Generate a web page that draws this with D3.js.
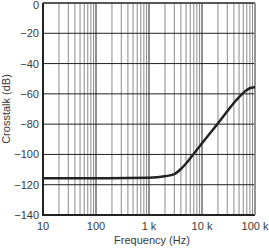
<!DOCTYPE html>
<html>
<head>
<meta charset="utf-8">
<script src="https://cdn.jsdelivr.net/npm/d3@7"></script>
<style>
  body { margin: 0; background: #fff; }
  text { font-family: "Liberation Sans", Arial, sans-serif; fill: #3a3a3a; }
</style>
</head>
<body>
<div class="chart"></div>
<script>
// crosstalk vs frequency
const freqs = [10, 100, 1000, 2000, 3000, 4000, 5000, 7000, 10000, 20000, 50000, 70000, 85000, 100000];
const crosstalk = [-115.7, -115.7, -115.4, -114.4, -113, -109.6, -106, -99.5, -92.6, -79.5, -62.2, -57.5, -56, -55.7];

const xTicks = [10, 100, 1000, 10000, 100000];
const xTickLabels = ['10', '100', '1 k', '10 k', '100 k'];
const yTicks = [0, -20, -40, -60, -80, -100, -120, -140];

const width = 269, height = 249;
const margin = { top: 3, right: 14, bottom: 34, left: 43 };

const svg = d3.select('div.chart')
  .append('svg')
  .attr('width', width)
  .attr('height', height);

const x = d3.scaleLog().domain([10, 100000]).range([margin.left, width - margin.right]);
const y = d3.scaleLinear().domain([-140, 0]).range([height - margin.bottom, margin.top]);

// minor vertical grid (2..9 per decade)
const minor = [];
for (let d = 10; d < 100000; d *= 10) {
  for (let k = 2; k <= 9; k++) minor.push(d * k);
}
svg.append('g')
  .selectAll('line')
  .data(minor)
  .enter()
  .append('line')
  .attr('x1', d => x(d)).attr('x2', d => x(d))
  .attr('y1', y(0)).attr('y2', y(-140))
  .attr('stroke', '#8a8a8a')
  .attr('stroke-width', 1);

// major grid
svg.append('g')
  .selectAll('line')
  .data(xTicks)
  .enter()
  .append('line')
  .attr('x1', d => x(d)).attr('x2', d => x(d))
  .attr('y1', y(0)).attr('y2', y(-140))
  .attr('stroke', '#222')
  .attr('stroke-width', 1);

svg.append('g')
  .selectAll('line')
  .data(yTicks)
  .enter()
  .append('line')
  .attr('x1', x(10)).attr('x2', x(100000))
  .attr('y1', d => y(d)).attr('y2', d => y(d))
  .attr('stroke', '#222')
  .attr('stroke-width', 1);

// frame
svg.append('line')
  .attr('x1', x(10)).attr('x2', x(10))
  .attr('y1', y(0)).attr('y2', y(-140))
  .attr('stroke', '#222').attr('stroke-width', 2);
svg.append('line')
  .attr('x1', x(10) - 1).attr('x2', x(100000))
  .attr('y1', y(-140)).attr('y2', y(-140))
  .attr('stroke', '#222').attr('stroke-width', 2);
svg.append('line')
  .attr('x1', x(10)).attr('x2', x(100000))
  .attr('y1', y(0)).attr('y2', y(0))
  .attr('stroke', '#444').attr('stroke-width', 1.5);
svg.append('line')
  .attr('x1', x(100000)).attr('x2', x(100000))
  .attr('y1', y(0)).attr('y2', y(-140))
  .attr('stroke', '#999').attr('stroke-width', 1.5);

// data curve
const line = d3.line()
  .x((d, i) => x(freqs[i]))
  .y(d => y(d))
  .curve(d3.curveMonotoneX);

svg.append('path')
  .datum(crosstalk)
  .attr('d', line)
  .attr('fill', 'none')
  .attr('stroke', '#222')
  .attr('stroke-width', 2.5);

// tick labels
svg.append('g')
  .selectAll('text')
  .data(yTicks)
  .enter()
  .append('text')
  .attr('x', margin.left - 4)
  .attr('y', d => Math.max(y(d) + 4, 9))
  .attr('text-anchor', 'end')
  .style('font-size', '11px')
  .text(d => d === 0 ? '0' : '\u2212' + Math.abs(d));

svg.append('g')
  .selectAll('text')
  .data(xTicks)
  .enter()
  .append('text')
  .attr('x', d => x(d))
  .attr('y', height - margin.bottom + 15)
  .attr('text-anchor', 'middle')
  .style('font-size', '11px')
  .text((d, i) => xTickLabels[i]);

svg.append('text')
  .attr('x', (margin.left + width - margin.right) / 2 + 3)
  .attr('y', 244)
  .attr('text-anchor', 'middle')
  .style('font-size', '11px')
  .text('Frequency (Hz)');

svg.append('text')
  .attr('transform', `translate(10, ${(y(0) + y(-140)) / 2}) rotate(-90)`)
  .attr('text-anchor', 'middle')
  .style('font-size', '11px')
  .text('Crosstalk (dB)');
</script>
</body>
</html>
